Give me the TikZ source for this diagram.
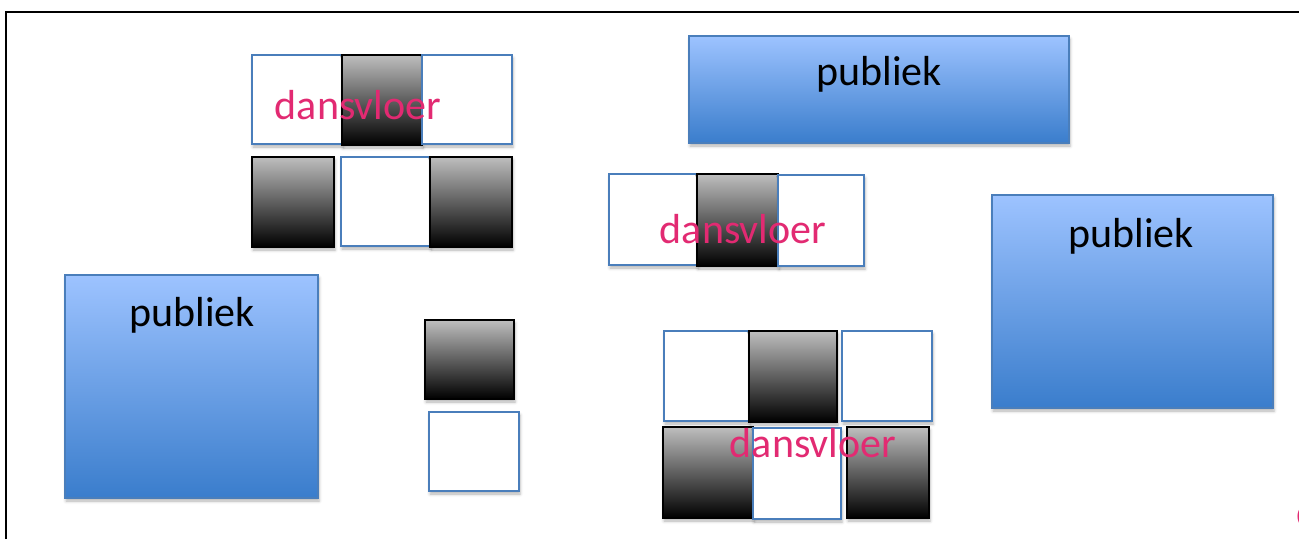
\documentclass[tikz,border=0pt]{standalone}
\usepackage{fontspec}
\setmainfont{Carlito}
\usetikzlibrary{shadows.blur}
\definecolor{pubtop}{RGB}{157,195,255}
\definecolor{pubmid}{RGB}{135,180,243}
\definecolor{pubbot}{RGB}{58,125,204}
\definecolor{publine}{RGB}{74,126,187}
\definecolor{graytop}{RGB}{190,190,190}
\definecolor{graymid}{RGB}{125,125,125}
\definecolor{pinktxt}{RGB}{226,42,114}
\tikzset{
  shad/.style={blur shadow={shadow xshift=1pt, shadow yshift=-3pt, shadow blur radius=3pt, shadow opacity=30}},
  pubbox/.style={shad, draw=publine, line width=1.6pt, top color=pubtop, middle color=pubmid, bottom color=pubbot},
  graybox/.style={shad, draw=black, line width=1.6pt, top color=graytop, middle color=graymid, bottom color=black},
  whitebox/.style={shad, draw=publine, line width=1.6pt, fill=white},
  pubtxt/.style={anchor=base, inner sep=0pt, font=\fontsize{42}{50}\selectfont, text=black},
  dvtxt/.style={anchor=base, inner sep=0pt, font=\fontsize{42}{50}\selectfont, text=pinktxt},
}
\begin{document}
\begin{tikzpicture}[x=1pt, y=-1pt]
\useasboundingbox (0,0) rectangle (1299,539);
\begin{scope}
\clip (0,0) rectangle (1299,539);
% frame
\draw[line width=2pt] (6,539) -- (6,12) -- (1299,12);

% top-left dance floor group
\draw[whitebox] (252,55) rectangle (342,144);
\draw[graybox]  (342,55) rectangle (422,145);
\draw[whitebox] (422,55) rectangle (512,144);
\draw[graybox]  (252,157) rectangle (334,247);
\draw[whitebox] (341,157) rectangle (430,246);
\draw[graybox]  (430,157) rectangle (512,247);
\node[dvtxt] (dv1) at (358,119) {dansvloer};

% top publiek
\draw[pubbox] (689,36) rectangle (1069,143);
\node[pubtxt] (pub1) at (879,85) {publiek};

% middle dance floor group
\draw[whitebox] (609,174) rectangle (697,265);
\draw[graybox]  (697,174) rectangle (778,266);
\draw[whitebox] (778,175) rectangle (864,266);
\node[dvtxt] (dv2) at (743,243) {dansvloer};

% right publiek
\draw[pubbox] (992,195) rectangle (1273,408);
\node[pubtxt] (pub2) at (1131,247) {publiek};

% left publiek
\draw[pubbox] (65,275) rectangle (318,498);
\node[pubtxt] (pub3) at (192,326) {publiek};

% small column
\draw[graybox]  (425,320) rectangle (514,399);
\draw[whitebox] (429,412) rectangle (519,491);

% bottom dance floor group
\draw[whitebox] (664,331) rectangle (749,421);
\draw[graybox]  (749,331) rectangle (837,422);
\draw[whitebox] (842,331) rectangle (932,421);
\draw[graybox]  (663,427) rectangle (753,518);
\draw[whitebox] (753,428) rectangle (841,519);
\draw[graybox]  (847,427) rectangle (929,518);
\node[dvtxt] (dv3) at (813,457) {dansvloer};

% cut-off text at right edge
\node[dvtxt, anchor=base west] (dv4) at (1296,526) {dansvloer};
\end{scope}
\end{tikzpicture}
\end{document}
